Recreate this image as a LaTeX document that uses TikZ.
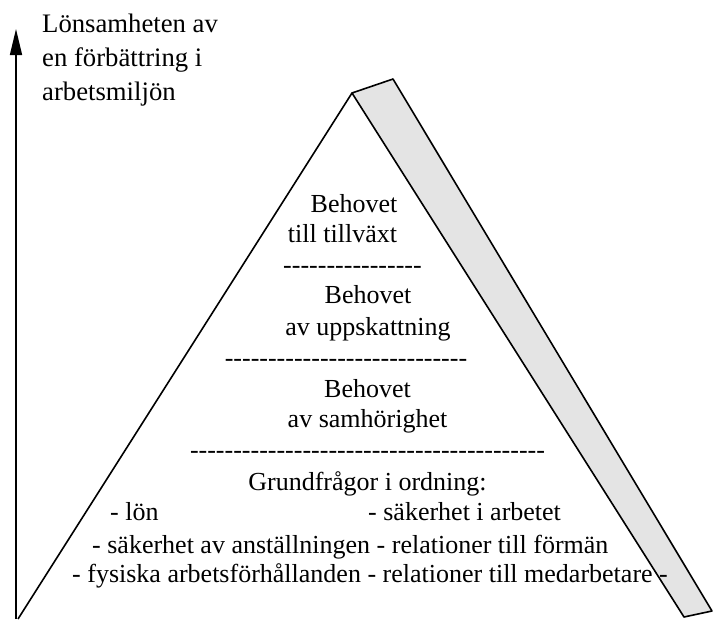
\documentclass[tikz,border=0pt]{standalone}
\usepackage{fontspec}
\setmainfont{Liberation Serif}[Ligatures=TeXOff]
\usetikzlibrary{arrows.meta}
\definecolor{bandgray}{HTML}{E4E4E4}
\begin{document}
\begin{tikzpicture}[x=1pt,y=-1pt,
  edge/.style={line width=1.6pt, line join=round},
  axisline/.style={line width=1.6pt, -{Triangle[length=26pt,width=12pt]}},
  lbl/.style={inner sep=0pt, anchor=base west, font=\fontsize{26.7}{34}\selectfont},
  ptxt/.style={inner sep=0pt, anchor=base, font=\fontsize{26}{30}\selectfont},
  ptxtl/.style={inner sep=0pt, anchor=base west, font=\fontsize{26}{30}\selectfont}]
\useasboundingbox (0,0) rectangle (715,619);
% axis
\coordinate (abot) at (16,619);
\coordinate (atop) at (16,29);
\draw[axisline] (abot) -- (atop);
\node[lbl] (L1) at (42,32) {Lönsamheten av};
\node[lbl] (L2) at (42,66) {en förbättring i};
\node[lbl] (L3) at (42,100) {arbetsmiljön};
% pyramid geometry
\coordinate (apex) at (352,93);
\coordinate (bl) at (18,619);
\coordinate (br) at (684,617);
\coordinate (btr) at (393,79);
\coordinate (bbr) at (712,611);
\draw[edge] (apex) -- (bl);
% band
\draw[edge, fill=bandgray] (apex) -- (btr) -- (bbr) -- (br) -- cycle;
% texts
\node[ptxt] (b1) at (354,212) {Behovet};
\node[ptxt] (t1) at (342.5,242) {till tillväxt};
\node[ptxt] (d1) at (352.5,273) {----------------};
\node[ptxt] (b2) at (368,303) {Behovet};
\node[ptxt] (u1) at (368,335) {av uppskattning};
\node[ptxt] (d2) at (346,366) {----------------------------};
\node[ptxt] (b3) at (367.5,397) {Behovet};
\node[ptxt] (s1) at (367.5,427) {av samhörighet};
\node[ptxt] (d3) at (367.5,458) {-----------------------------------------};
\node[ptxt] (g1) at (367.5,490) {Grundfrågor i ordning:};
\node[ptxtl] (l1) at (110,520) {- lön};
\node[ptxtl] (l2) at (368,520) {- säkerhet i arbetet};
\node[ptxtl] (l3) at (92,553) {- säkerhet av anställningen - relationer till förmän};
\node[ptxtl] (l4) at (72,582) {- fysiska arbetsförhållanden - relationer till medarbetare -};
\end{tikzpicture}
\end{document}
